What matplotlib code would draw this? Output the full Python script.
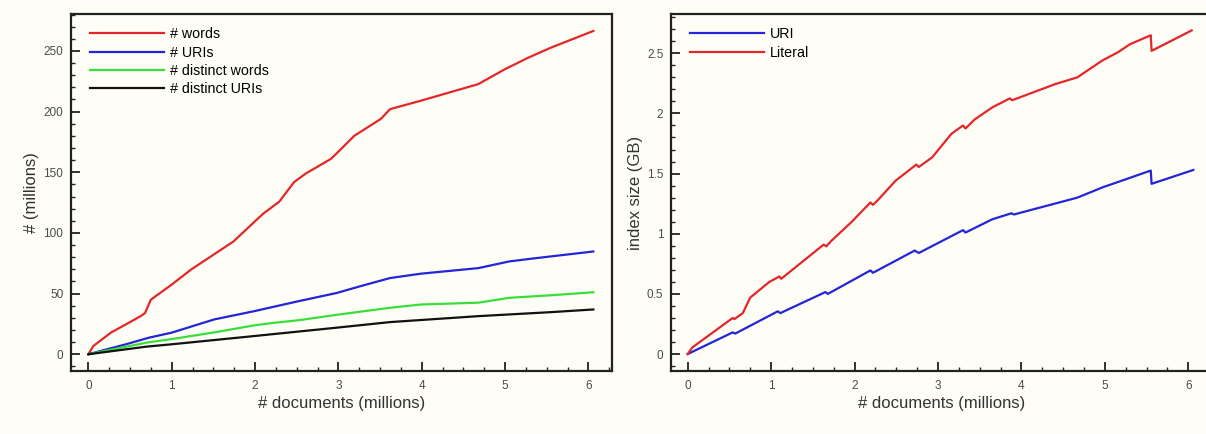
import matplotlib
matplotlib.use('Agg')
import matplotlib.pyplot as plt
from matplotlib.ticker import MultipleLocator, FormatStrFormatter

BG = '#fefef6'
RED = '#e3262b'
BLUE = '#2424d8'
GREEN = '#3ade3a'
BLACK = '#111111'
TICK = '#4a4a4a'
LABEL = '#333333'

plt.rcParams['font.family'] = ['Liberation Sans', 'DejaVu Sans']

# left panel: counts (millions) vs documents (millions)
words_x = [0, 0.06, 0.27, 0.45, 0.63, 0.68, 0.75, 1.0, 1.23, 1.74, 1.99, 2.1, 2.29,
           2.47, 2.61, 2.91, 3.03, 3.19, 3.51, 3.62, 3.99, 4.68, 5.0, 5.28, 5.55, 6.06]
words_y = [0, 6.8, 17.8, 24.6, 31.5, 34, 45, 57.4, 69.7, 92.9, 109, 116, 125.7,
           142, 149, 161, 169, 180, 194, 202, 209, 222.7, 235, 244.5, 252.7, 266.5]

uris_x = [0, 0.45, 0.73, 1.0, 1.51, 1.99, 2.52, 2.98, 3.26, 3.62, 3.99, 4.68, 5.05, 5.37, 6.06]
uris_y = [0, 8.2, 13.7, 17.8, 28.7, 35.5, 43.7, 50.5, 56, 62.8, 66.4, 71, 76.5, 79.2, 84.7]

dwords_x = [0, 0.7, 1.0, 1.51, 1.99, 2.24, 2.52, 2.98, 3.62, 3.99, 4.68, 5.05, 5.55, 6.06]
dwords_y = [0, 9.6, 12.5, 18, 23.8, 26, 28, 32.5, 38.3, 41, 42.5, 46.5, 48.6, 51.1]

duris_x = [0, 0.7, 1.0, 1.99, 2.98, 3.62, 4.68, 5.55, 6.06]
duris_y = [0, 6.3, 8.2, 15, 21.9, 26.5, 31.4, 34.7, 36.9]

# right panel: index size (GB) vs documents (millions)
lit_x = [0, 0.056, 0.54, 0.56, 0.66, 0.75, 0.98, 1.10, 1.12, 1.63, 1.66, 1.72, 1.96,
         2.19, 2.22, 2.28, 2.49, 2.74, 2.77, 2.93, 3.16, 3.30, 3.33, 3.44, 3.65,
         3.86, 3.89, 4.41, 4.67, 4.97, 5.16, 5.30, 5.55, 5.56, 6.04]
lit_y = [0, 0.055, 0.30, 0.29, 0.34, 0.47, 0.60, 0.645, 0.625, 0.91, 0.895, 0.94, 1.095,
         1.26, 1.24, 1.28, 1.44, 1.575, 1.555, 1.635, 1.83, 1.90, 1.875, 1.95, 2.05,
         2.125, 2.11, 2.245, 2.30, 2.44, 2.51, 2.575, 2.65, 2.52, 2.69]

uri_x = [0, 0.54, 0.57, 1.08, 1.11, 1.65, 1.68, 2.19, 2.22, 2.72, 2.77, 3.30, 3.33,
         3.65, 3.88, 3.91, 4.67, 4.97, 5.55, 5.56, 6.06]
uri_y = [0, 0.18, 0.17, 0.355, 0.34, 0.515, 0.50, 0.695, 0.675, 0.86, 0.84, 1.03, 1.01,
         1.12, 1.17, 1.16, 1.30, 1.385, 1.525, 1.415, 1.53]

fig = plt.figure(figsize=(12.06, 4.34), dpi=100)
fig.patch.set_facecolor(BG)

ax1 = fig.add_axes([0.0589, 0.1452, 0.4483, 0.8218])
ax2 = fig.add_axes([0.5564, 0.1452, 0.4483, 0.8218])

lw = 1.6
ax1.plot(words_x, words_y, color=RED, lw=lw, label='# words')
ax1.plot(uris_x, uris_y, color=BLUE, lw=lw, label='# URIs')
ax1.plot(dwords_x, dwords_y, color=GREEN, lw=lw, label='# distinct words')
ax1.plot(duris_x, duris_y, color=BLACK, lw=lw, label='# distinct URIs')
ax1.set_xlim(-0.208, 6.28)
ax1.set_ylim(-13.8, 280.2)
ax1.yaxis.set_major_locator(MultipleLocator(50))
ax1.yaxis.set_minor_locator(MultipleLocator(10))
ax1.set_ylabel('# (millions)', fontsize=12, color=LABEL, labelpad=3)

ax2.plot(uri_x, uri_y, color=BLUE, lw=lw, label='URI')
ax2.plot(lit_x, lit_y, color=RED, lw=lw, label='Literal')
ax2.set_xlim(-0.2, 6.28)
ax2.set_ylim(-0.141, 2.824)
ax2.yaxis.set_major_locator(MultipleLocator(0.5))
ax2.yaxis.set_minor_locator(MultipleLocator(0.1))
ax2.yaxis.set_major_formatter(FormatStrFormatter('%g'))
ax2.set_ylabel('index size (GB)', fontsize=12, color=LABEL, labelpad=3)

for ax in (ax1, ax2):
    ax.set_facecolor(BG)
    ax.xaxis.set_major_locator(MultipleLocator(1))
    ax.xaxis.set_minor_locator(MultipleLocator(0.25))
    ax.set_xlabel('# documents (millions)', fontsize=12, color=LABEL, labelpad=3)
    ax.tick_params(which='both', direction='in', top=False, right=False,
                   colors='#222222', labelcolor=TICK, labelsize=8.5)
    ax.tick_params(axis='x', pad=6.5)
    ax.tick_params(axis='y', pad=5.5)
    ax.tick_params(which='major', length=6.5, width=1.3)
    ax.tick_params(which='minor', length=3, width=1.0)
    for sp in ax.spines.values():
        sp.set_linewidth(1.6)
        sp.set_color('#222222')
    ax.legend(loc='upper left', bbox_to_anchor=(0.025, 0.98), frameon=False,
              fontsize=10.3, handlelength=5.15, handletextpad=0.4,
              labelspacing=0.31, borderaxespad=0)

fig.savefig('out.png', dpi=100, facecolor=BG)
